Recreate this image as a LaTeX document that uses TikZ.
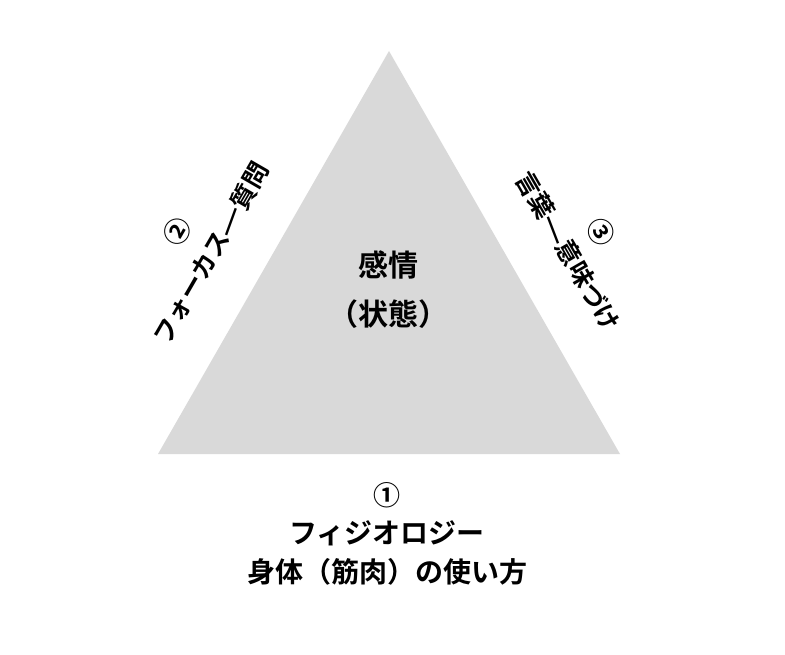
\documentclass[tikz,border=0pt]{standalone}
\usepackage{fontspec}
\newfontfamily\jpfont{Noto Sans CJK JP Bold}
\newcommand{\sepbar}[1]{\rotatebox[origin=c]{#1}{|}}
\tikzset{ tri/.style = { fill = black!15 % triangle
        , draw = none
        }
        , mid/.style = { inner sep = 0pt % centre text
        , font = \jpfont\fontsize{30}{36}\selectfont
        }
        , side/.style = { inner sep = 0pt % edge text
        , font = \jpfont\fontsize{25}{30}\selectfont
        }
        , num/.style = { inner sep = 0pt % circled number
        , font = \jpfont\fontsize{27}{30}\selectfont
        }
        }

\begin{document}
\begin{tikzpicture}[x=1pt, y=-1pt]
        \useasboundingbox (0,0) rectangle (785,655);
        \coordinate (apex) at (389,51);
        \coordinate (bl) at (158,454);
        \coordinate (br) at (620,454);
        \fill [tri] (apex) -- (bl) -- (br) -- cycle;

        \node [mid](state1) at (388,265) {感情};
        \node [mid](state2) at (388,314) {（状態）};

        \node [num](n1) at (387,495) {①};
        \node [side,font=\jpfont\fontsize{28}{30}\selectfont](phys1) at (387,533) {フィジオロジー};
        \node [side,font=\jpfont\fontsize{28}{30}\selectfont](phys2) at (387,572) {身体（筋肉）の使い方};

        \node [num,rotate=60](n2) at (177,232) {②};
        \node [side,rotate=60](focus) at (211,253) {フォーカス\sepbar{-80}質問};

        \node [num,rotate=-60](n3) at (601,232) {③};
        \node [side,rotate=-60](words) at (568,251) {言葉\sepbar{81}意味づけ};
\end{tikzpicture}
\end{document}
